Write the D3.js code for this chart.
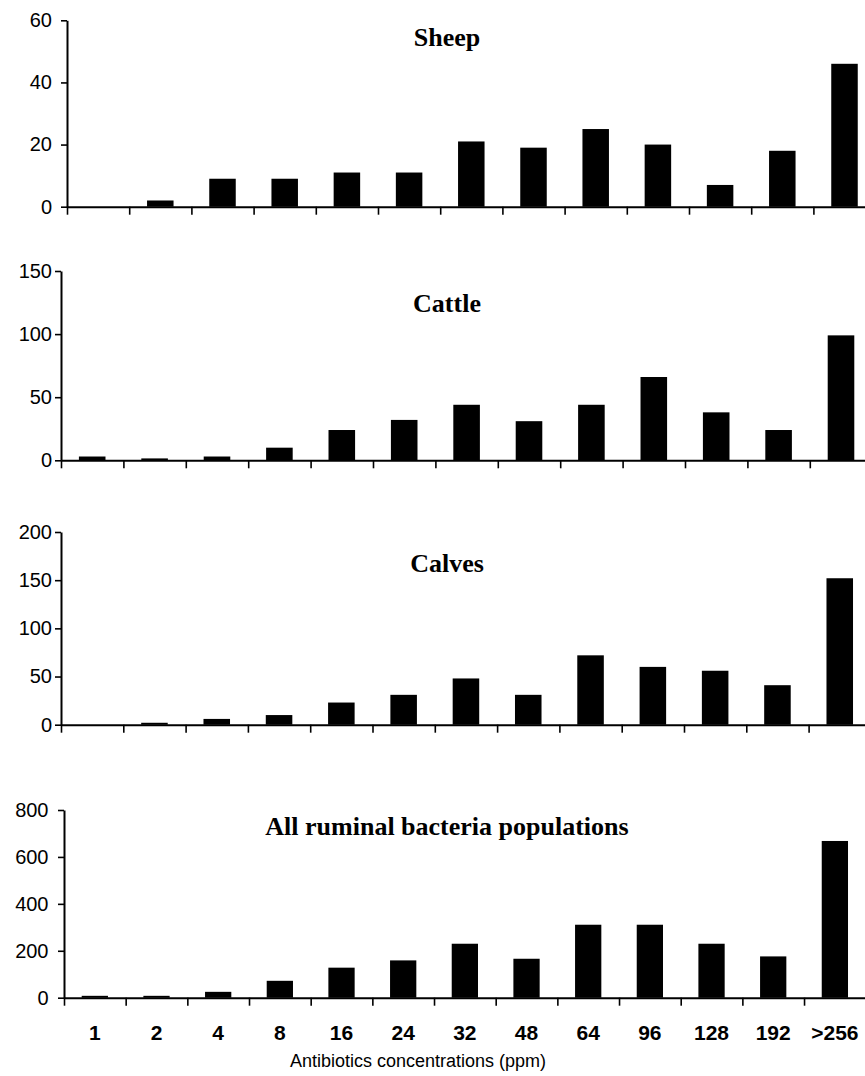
<!DOCTYPE html>
<html>
<head>
<meta charset="utf-8">
<script src="https://cdn.jsdelivr.net/npm/d3@7"></script>
<style>
  html, body { margin: 0; padding: 0; background: #fff; }
  svg { display: block; }
</style>
</head>
<body>
<svg id="chart" width="865" height="1076"></svg>
<script>
// ---- Data ----
const categories = ["1", "2", "4", "8", "16", "24", "32", "48", "64", "96", "128", "192", ">256"];
const sheepValues  = [0, 2, 9, 9, 11, 11, 21, 19, 25, 20, 7, 18, 46];
const cattleValues = [3, 1.5, 3, 10, 24, 32, 44, 31, 44, 66, 38, 24, 99];
const calvesValues = [0, 2, 6, 10, 23, 31, 48, 31, 72, 60, 56, 41, 152];
const allValues    = [8, 8, 25, 72, 128, 159, 230, 166, 311, 311, 230, 176, 668];
const panelTitles  = ["Sheep", "Cattle", "Calves", "All ruminal bacteria populations"];
const sheepTicks   = [0, 20, 40, 60];
const cattleTicks  = [0, 50, 100, 150];
const calvesTicks  = [0, 50, 100, 150, 200];
const allTicks     = [0, 200, 400, 600, 800];
const xAxisTitle   = "Antibiotics concentrations (ppm)";

// ---- Layout (positions only) ----
const panels = [
  { title: panelTitles[0], values: sheepValues,  ticks: sheepTicks,  x0: 67, step: 62.2,  yTop: 20.3, yBase: 206.7, titleY: 46,    labelEnd: 52 },
  { title: panelTitles[1], values: cattleValues, ticks: cattleTicks, x0: 61, step: 62.4,  yTop: 271,  yBase: 460.3, titleY: 311.5, labelEnd: 52 },
  { title: panelTitles[2], values: calvesValues, ticks: calvesTicks, x0: 61, step: 62.3,  yTop: 532,  yBase: 724.7, titleY: 571.5, labelEnd: 52 },
  { title: panelTitles[3], values: allValues,    ticks: allTicks,    x0: 64, step: 61.67, yTop: 810,  yBase: 997.7, titleY: 835,   labelEnd: 48.5 }
];

const svg = d3.select("#chart");

panels.forEach((p, i) => {
  const x1 = p.x0 + p.step * categories.length;
  const x = d3.scaleBand().domain(categories).range([p.x0, x1]).paddingInner(0.574).paddingOuter(0.287);
  const xEdge = d3.scaleLinear().domain([0, categories.length]).range([p.x0, x1]);
  const y = d3.scaleLinear().domain([0, d3.max(p.ticks)]).range([p.yBase, p.yTop]);

  const g = svg.append("g");

  // bars
  g.selectAll("rect.bar").data(p.values).join("rect")
    .attr("class", "bar")
    .attr("x", (d, j) => x(categories[j]))
    .attr("width", x.bandwidth())
    .attr("y", d => y(d))
    .attr("height", d => p.yBase - y(d))
    .attr("fill", "#000");

  // y axis
  const yAxis = d3.axisLeft(y).tickValues(p.ticks).tickSize(6).tickSizeOuter(0)
    .tickPadding(p.x0 - 6 - p.labelEnd).tickFormat(d3.format("d"));
  const ya = g.append("g").attr("transform", `translate(${p.x0},0)`).call(yAxis);
  ya.select(".domain").attr("stroke", "#000").attr("stroke-width", 2);
  ya.selectAll(".tick line").attr("stroke", "#000").attr("stroke-width", 1.6);
  ya.selectAll(".tick text").attr("font-family", "'Liberation Sans', Arial, sans-serif")
    .attr("font-size", 20).attr("fill", "#000");

  // x axis (ticks between categories)
  const xAxis = d3.axisBottom(xEdge).tickValues(d3.range(0, categories.length + 1))
    .tickSize(8).tickSizeOuter(0).tickFormat("");
  const xa = g.append("g").attr("transform", `translate(0,${p.yBase})`).call(xAxis);
  xa.select(".domain").attr("stroke", "#000").attr("stroke-width", 2);
  xa.selectAll(".tick line").attr("stroke", "#000").attr("stroke-width", 1.6);

  // title
  g.append("text")
    .attr("x", 447).attr("y", p.titleY)
    .attr("text-anchor", "middle")
    .attr("font-family", "'Liberation Serif', 'Times New Roman', serif")
    .attr("font-weight", "bold").attr("font-size", 26)
    .text(p.title);

  // category labels on the last panel
  if (i === panels.length - 1) {
    g.selectAll("text.cat").data(categories).join("text")
      .attr("class", "cat")
      .attr("x", d => x(d) + x.bandwidth() / 2)
      .attr("y", 1040)
      .attr("text-anchor", "middle")
      .attr("font-family", "'Liberation Sans', Arial, sans-serif")
      .attr("font-weight", "bold").attr("font-size", 21)
      .text(d => d);

    g.append("text")
      .attr("x", 418).attr("y", 1067)
      .attr("text-anchor", "middle")
      .attr("font-family", "'Liberation Sans', Arial, sans-serif")
      .attr("font-size", 18)
      .text(xAxisTitle);
  }
});
</script>
</body>
</html>
